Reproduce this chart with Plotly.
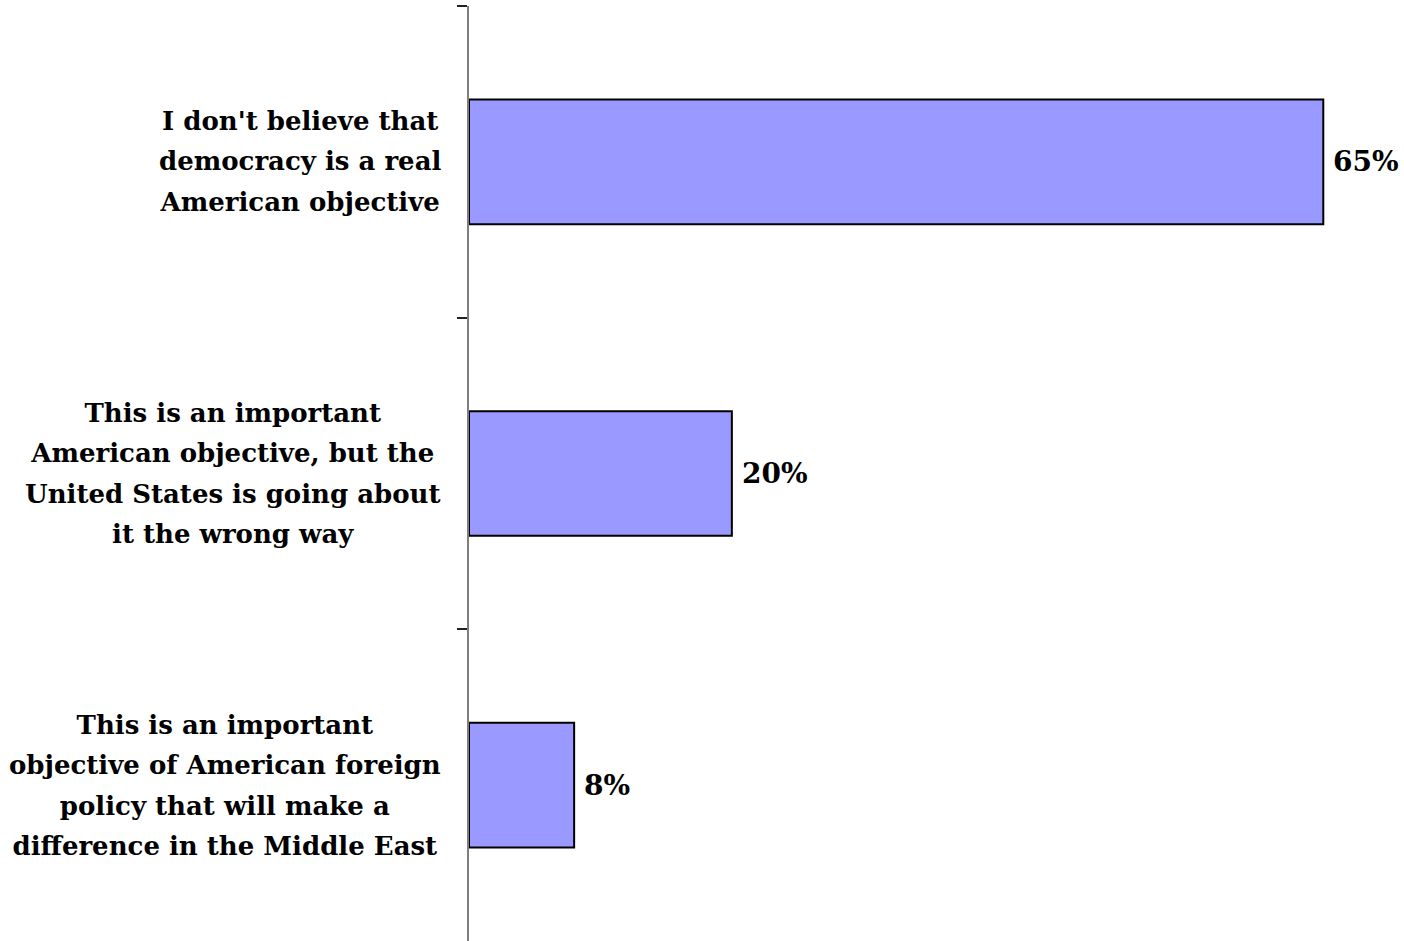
import plotly.graph_objects as go

# Survey answers, top to bottom (lines split as in the original chart)
categories = [
    "I don't believe that<br>democracy is a real<br>American objective",
    "This is an important<br>American objective, but the<br>United States is going about<br>it the wrong way",
    "This is an important<br>objective of American foreign<br>policy that will make a<br>difference in the Middle East",
]
values = [65, 20, 8]
value_labels = ["65%", "20%", "8%"]

FONT = "DejaVu Serif"
SIZE = 26

fig = go.Figure()

fig.add_trace(go.Bar(
    y=categories,
    x=values,
    orientation='h',
    marker=dict(color='#9999FF', line=dict(color='black', width=2)),
    hoverinfo='skip',
))

# category labels: base font 31 sets ~40px line spacing, glyphs drawn at 26px
for cat in categories:
    styled = "<br>".join(
        f'<span style="font-size:{SIZE}px"><b>{line}</b></span>' for line in cat.split("<br>")
    )
    fig.add_annotation(
        x=-0.028, xref='paper', xanchor='right',
        y=cat, yref='y', yanchor='middle',
        text=styled,
        showarrow=False, align='center',
        font=dict(family=FONT, size=31, color='black'),
    )

# value labels to the right of each bar
for cat, v, lab in zip(categories, values, value_labels):
    fig.add_annotation(
        x=v, y=cat, xanchor='left', yanchor='middle', xshift=8,
        text=f"<b>{lab}</b>", showarrow=False,
        font=dict(family=FONT, size=28, color='black'),
    )

fig.update_layout(
    width=1404,
    height=941,
    paper_bgcolor='white',
    plot_bgcolor='white',
    showlegend=False,
    bargap=0.6,
    margin=dict(l=469, r=15, t=6, b=0),
    font=dict(family=FONT, size=SIZE, color='black'),
)

fig.update_xaxes(range=[0, 70], visible=False)
fig.update_yaxes(
    autorange='reversed',
    showticklabels=False,
    showline=True, linecolor='#7f7f7f', linewidth=2,
    ticks='outside', tickson='boundaries', ticklen=10, tickcolor='#222', tickwidth=2,
    showgrid=False,
)

fig.write_html("out.html", config={'displayModeBar': False},
               post_script="document.body.style.margin='0';")
